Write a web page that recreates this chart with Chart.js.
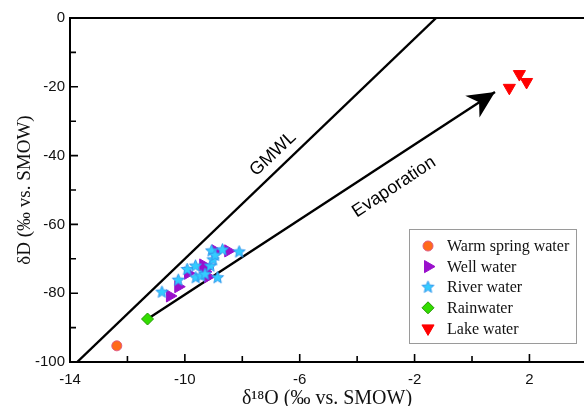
<!DOCTYPE html>
<html>
<head>
<meta charset="utf-8">
<script src="https://cdn.jsdelivr.net/npm/chart.js@4/dist/chart.umd.min.js"></script>
<style>
  html, body { margin: 0; padding: 0; background: #fff; overflow: hidden; }
  #wrap { position: relative; width: 584px; height: 406px; }
</style>
</head>
<body>
<div id="wrap"><canvas id="c" width="584" height="406"></canvas></div>
<script>
// δ18O / δD isotope samples (‰ vs. SMOW)
const warmSpringX = [-12.37];
const warmSpringY = [-95.3];

const wellX = [-10.52, -10.23, -9.89, -9.36, -9.30, -9.19, -9.23, -8.93, -8.49];
const wellY = [-80.8, -78.1, -74.2, -71.8, -73.8, -75.2, -72.7, -67.7, -67.7];

const riverX = [-10.80, -10.23, -9.92, -9.63, -9.62, -9.44, -9.30, -9.11, -9.02, -9.07, -8.69, -8.11, -8.86, -8.95];
const riverY = [-79.7, -76.2, -73.1, -72.1, -75.5, -75.0, -74.5, -72.1, -70.3, -67.7, -67.4, -68.0, -75.5, -69.0];

const rainX = [-11.3];
const rainY = [-87.5];

const lakeX = [1.30, 1.65, 1.90];
const lakeY = [-20.3, -16.3, -18.6];

// Global meteoric water line end points, and the evaporation trend arrow
const gmwlX = [-13.75, -1.25];
const gmwlY = [-100, 0];
const evapX = [-11.3, 0.8];
const evapY = [-87.5, -21.5];

const xTicks = [-14, -12, -10, -8, -6, -4, -2, 0, 2];
const xLabelled = [-14, -10, -6, -2, 2];
const yTicks = [-100, -90, -80, -70, -60, -50, -40, -30, -20, -10, 0];
const yLabelled = [-100, -80, -60, -40, -20, 0];

const seriesNames = ['Warm spring water', 'Well water', 'River water', 'Rainwater', 'Lake water'];

const pts = (xs, ys) => xs.map((x, i) => ({ x: x, y: ys[i] }));

// Filled five-point star used as a marker image
function starImage(r, fill, stroke) {
  const s = Math.ceil(r * 2 + 4);
  const cv = document.createElement('canvas');
  cv.width = s; cv.height = s;
  const g = cv.getContext('2d');
  g.translate(s / 2, s / 2);
  g.beginPath();
  for (let i = 0; i < 10; i++) {
    const rr = i % 2 === 0 ? r : r * 0.45;
    const a = -Math.PI / 2 + i * Math.PI / 5;
    const px = Math.cos(a) * rr, py = Math.sin(a) * rr;
    if (i === 0) g.moveTo(px, py); else g.lineTo(px, py);
  }
  g.closePath();
  g.fillStyle = fill;
  g.fill();
  g.lineWidth = 1;
  g.strokeStyle = stroke;
  g.stroke();
  return cv;
}
const star = starImage(6.3, '#33CCFF', '#3399EE');

const styles = [
  { style: 'circle', radius: 5, rot: 0, bg: '#FF6A1A', bd: '#E05A80' },
  { style: 'triangle', radius: 7, rot: 90, bg: '#9A10CC', bd: '#9A10CC' },
  { style: star, radius: 6, rot: 0, bg: '#33CCFF', bd: '#3399EE' },
  { style: 'rectRot', radius: 6, rot: 0, bg: '#33DD00', bd: '#229900' },
  { style: 'triangle', radius: 7, rot: 180, bg: '#FF0000', bd: '#FF0000' }
];

function scatterSet(i, data) {
  const s = styles[i];
  return {
    type: 'scatter', label: seriesNames[i], data: data,
    pointStyle: s.style, pointRadius: s.radius, pointRotation: s.rot,
    backgroundColor: s.bg, borderColor: s.bd, borderWidth: 1,
    order: 5 - i
  };
}

// Inward tick marks, frame lines, arrowhead, line labels, legend box
const decor = {
  id: 'decor',
  afterDatasetsDraw(chart) {
    const ctx = chart.ctx;
    const xs = chart.scales.x, ys = chart.scales.y;
    const a = chart.chartArea;
    ctx.save();
    ctx.strokeStyle = '#000';
    ctx.lineWidth = 2;
    ctx.lineCap = 'butt';
    // frame: left, bottom, top
    ctx.beginPath();
    ctx.moveTo(a.left, a.top); ctx.lineTo(a.left, a.bottom);
    ctx.moveTo(a.left - 1, a.bottom); ctx.lineTo(a.right, a.bottom);
    ctx.moveTo(a.left - 1, a.top); ctx.lineTo(a.right, a.top);
    ctx.stroke();
    // ticks
    ctx.lineWidth = 1.6;
    ctx.beginPath();
    xTicks.forEach(v => {
      const px = xs.getPixelForValue(v);
      const len = xLabelled.includes(v) ? 8 : 6;
      ctx.moveTo(px, a.bottom); ctx.lineTo(px, a.bottom - len);
    });
    yTicks.forEach(v => {
      const py = ys.getPixelForValue(v);
      const len = yLabelled.includes(v) ? 8 : 6;
      ctx.moveTo(a.left, py); ctx.lineTo(a.left + len, py);
    });
    ctx.stroke();

    // arrowhead at the end of the evaporation trend
    const x0 = xs.getPixelForValue(evapX[0]), y0 = ys.getPixelForValue(evapY[0]);
    const x1 = xs.getPixelForValue(evapX[1]), y1 = ys.getPixelForValue(evapY[1]);
    const ang = Math.atan2(y1 - y0, x1 - x0);
    ctx.translate(x1, y1);
    ctx.rotate(ang);
    ctx.beginPath();
    ctx.moveTo(0, 0);
    ctx.lineTo(-27, -13);
    ctx.lineTo(-19, 0);
    ctx.lineTo(-27, 13);
    ctx.closePath();
    ctx.fillStyle = '#000';
    ctx.fill();
    ctx.setTransform(1, 0, 0, 1, 0, 0);

    // rotated line labels
    ctx.fillStyle = '#000';
    ctx.font = '18px "Liberation Sans", Arial, sans-serif';
    ctx.textAlign = 'center';
    ctx.textBaseline = 'middle';
    ctx.save();
    ctx.translate(273, 154);
    ctx.rotate(-43 * Math.PI / 180);
    ctx.fillText('GMWL', 0, 0);
    ctx.restore();
    ctx.save();
    ctx.translate(394, 187);
    ctx.rotate(-33.5 * Math.PI / 180);
    ctx.fillText('Evaporation', 0, 0);
    ctx.restore();

    // legend
    ctx.fillStyle = '#fff';
    ctx.fillRect(409.5, 229.5, 167, 114);
    ctx.strokeStyle = '#9a9a9a';
    ctx.lineWidth = 1;
    ctx.strokeRect(409.5, 229.5, 167, 114);
    ctx.font = '16px "Liberation Serif", "Times New Roman", serif';
    ctx.textAlign = 'left';
    ctx.textBaseline = 'middle';
    seriesNames.forEach((name, i) => {
      const cy = 246 + i * 20.6;
      const s = styles[i];
      ctx.fillStyle = s.bg;
      ctx.strokeStyle = s.bd;
      ctx.lineWidth = 1;
      Chart.helpers.drawPoint(ctx, {
        pointStyle: s.style, radius: s.radius, rotation: s.rot, borderWidth: 1
      }, 428, cy);
      ctx.fillStyle = '#111';
      ctx.fillText(name, 447, cy + 1);
    });
    ctx.restore();
  }
};

new Chart(document.getElementById('c'), {
  data: {
    datasets: [
      {
        type: 'line', label: 'GMWL', data: pts(gmwlX, gmwlY),
        borderColor: '#000', borderWidth: 2.4, pointRadius: 0, fill: false, order: 10
      },
      {
        type: 'line', label: 'Evaporation', data: pts(evapX, evapY),
        borderColor: '#000', borderWidth: 2.4, pointRadius: 0, fill: false, order: 9
      },
      scatterSet(0, pts(warmSpringX, warmSpringY)),
      scatterSet(1, pts(wellX, wellY)),
      scatterSet(2, pts(riverX, riverY)),
      scatterSet(3, pts(rainX, rainY)),
      scatterSet(4, pts(lakeX, lakeY))
    ]
  },
  options: {
    responsive: false,
    animation: false,
    devicePixelRatio: 1,
    layout: { autoPadding: false, padding: { top: 18, right: 0, left: 0, bottom: 0 } },
    plugins: { legend: { display: false }, tooltip: { enabled: false } },
    scales: {
      x: {
        type: 'linear', min: -14, max: 3.9,
        afterBuildTicks: s => { s.ticks = xTicks.map(v => ({ value: v })); },
        afterFit: s => { s.height = 44; s.paddingLeft = 0; s.paddingRight = 0; },
        grid: { display: false, drawTicks: false },
        border: { display: false },
        ticks: {
          padding: 9, color: '#111', maxRotation: 0, autoSkip: false,
          font: { family: '"Liberation Sans", Arial, sans-serif', size: 15 },
          callback: v => xLabelled.includes(v) ? String(v) : ''
        },
        title: {
          display: true, text: 'δ¹⁸O (‰ vs. SMOW)', color: '#111',
          font: { family: '"Liberation Serif", "Times New Roman", serif', size: 20, lineHeight: 0.9 },
          padding: { top: -1.5, bottom: -1.5 }
        }
      },
      y: {
        type: 'linear', min: -100, max: 0,
        afterBuildTicks: s => { s.ticks = yTicks.map(v => ({ value: v })); },
        afterFit: s => { s.width = 70; s.paddingTop = 0; s.paddingBottom = 0; },
        grid: { display: false, drawTicks: false },
        border: { display: false },
        ticks: {
          padding: 5, color: '#111', autoSkip: false,
          font: { family: '"Liberation Sans", Arial, sans-serif', size: 15 },
          callback: v => yLabelled.includes(v) ? String(v) : ''
        },
        title: {
          display: true, text: 'δD (‰ vs. SMOW)', color: '#111',
          font: { family: '"Liberation Serif", "Times New Roman", serif', size: 19 },
          padding: { top: 14, bottom: 0 }
        }
      }
    }
  },
  plugins: [decor]
});
</script>
</body>
</html>
